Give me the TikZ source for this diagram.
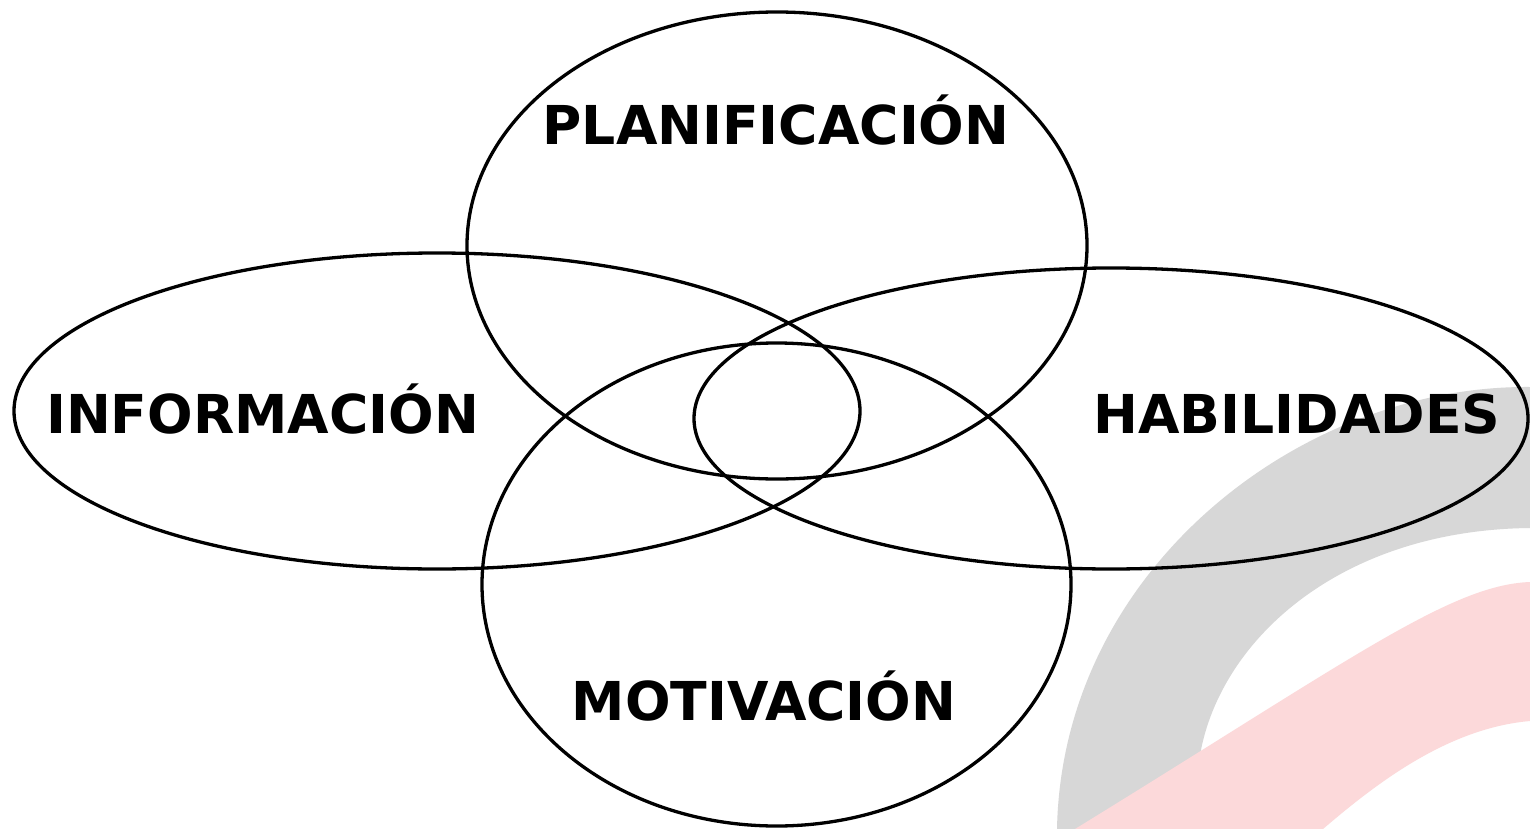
\documentclass[tikz,border=0pt]{standalone}
\usepackage{fontspec}
\setmainfont{DejaVu Sans}
\usetikzlibrary{shapes.geometric}
\definecolor{wmgray}{RGB}{215,215,215}
\definecolor{wmpink}{RGB}{252,217,218}
\tikzset{
  ring/.style={draw=black, line width=3.3pt, ellipse, inner sep=0pt, outer sep=0pt},
  lbl/.style={font=\fontsize{53.6}{60}\selectfont\bfseries, anchor=base, inner sep=0pt}
}
\begin{document}
\begin{tikzpicture}[x=1pt,y=-1pt]
\fill[white] (0,0) rectangle (1530,829);
\useasboundingbox (0,0) rectangle (1530,829);
% watermark
\fill[wmgray] (1530,387) .. controls (1300,385) and (1062,570) .. (1057,829)
  -- (1110,829) -- (1200,755)
  .. controls (1220,640) and (1340,530) .. (1530,528) -- cycle;
\fill[wmpink] (1530,582) .. controls (1450,585) and (1350,660) .. (1075,829)
  -- (1323,829)
  .. controls (1380,780) and (1450,728) .. (1530,721) -- cycle;
% ellipses
\node[ring, minimum width=620pt, minimum height=467pt] (plan) at (777,245.5) {};
\node[ring, minimum width=846pt, minimum height=316pt] (info) at (437,411) {};
\node[ring, minimum width=834pt, minimum height=301pt] (hab) at (1111,418.5) {};
\node[ring, minimum width=589pt, minimum height=483pt] (mot) at (776.5,584.5) {};
% labels
\node[lbl] (tplan) at (776,145) {PLANIFICACIÓN};
\node[lbl] (tinfo) at (262.5,433) {INFORMACIÓN};
\node[lbl] (thab) at (1297,433) {HABILIDADES};
\node[lbl] (tmot) at (764,720) {MOTIVACIÓN};
\end{tikzpicture}
\end{document}
